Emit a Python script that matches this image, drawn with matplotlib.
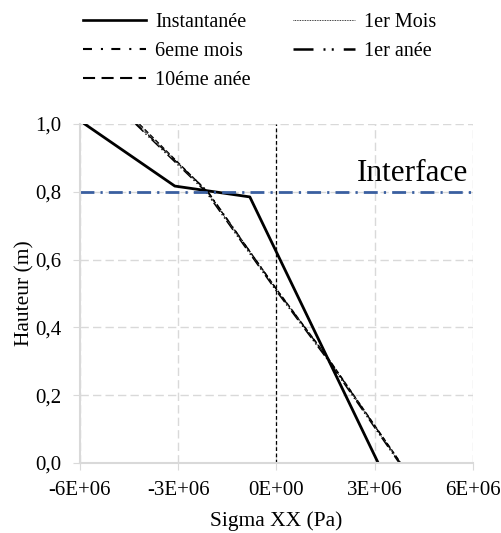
import matplotlib
matplotlib.use("Agg")
import matplotlib.pyplot as plt
from matplotlib.lines import Line2D
from matplotlib.ticker import FuncFormatter

plt.rcParams['font.family'] = ['Liberation Serif', 'DejaVu Serif']

# Hauteur (m) / Sigma XX (Pa)
h_inst = [1.0, 0.817, 0.785, 0.0]
sx_inst = [-5.85e6, -3.1e6, -0.81e6, 3.11e6]

h_long = [1.0, 0.8, 0.51, 0.3, 0.0]
sx_mois1 = [-4.23e6, -2.12e6, 0.0, 1.62e6, 3.77e6]
sx_mois6 = [-4.27e6, -2.08e6, 0.02e6, 1.64e6, 3.79e6]
sx_an1 = [-4.3e6, -2.15e6, -0.02e6, 1.6e6, 3.75e6]
sx_an10 = [-4.18e6, -2.1e6, 0.03e6, 1.65e6, 3.8e6]

h_interface = 0.8
x_ticks = [-6e6, -3e6, 0, 3e6, 6e6]
x_labels = ['-6E+06', '-3E+06', '0E+00', '3E+06', '6E+06']
y_ticks = [0.0, 0.2, 0.4, 0.6, 0.8, 1.0]

fig = plt.figure(figsize=(5.02, 5.33), dpi=100)
ax = fig.add_axes([0.159, 0.1313, 0.783, 0.636])

styles = {
    'Instantanée': dict(lw=2, ls='-'),
    '1er Mois': dict(lw=0.6, ls=(0, (1, 1))),
    '6eme mois': dict(lw=0.9, ls=(0, (6, 3, 1, 3))),
    '1er anée': dict(lw=1.0, ls=(0, (8, 2, 1, 2, 1, 2))),
    '10éme anée': dict(lw=0.9, ls=(0, (4, 2))),
}
ax.plot(sx_inst, h_inst, color='black', **styles['Instantanée'])
ax.plot(sx_mois1, h_long, color='black', **styles['1er Mois'])
ax.plot(sx_mois6, h_long, color='black', **styles['6eme mois'])
ax.plot(sx_an1, h_long, color='black', **styles['1er anée'])
ax.plot(sx_an10, h_long, color='black', **styles['10éme anée'])

ax.axvline(0, color='black', lw=0.9, ls=(0, (3, 2)))
ax.axhline(h_interface, color='#3a5fa0', lw=2, ls=(0, (5, 2.2, 0.8, 2.2)))
ax.text(5.87e6, 0.855, 'Interface', fontsize=22.5, ha='right', va='center')

ax.set_xlim(-6e6, 6e6)
ax.set_ylim(0, 1.0)
ax.set_xticks(x_ticks)
ax.set_xticklabels(x_labels)
ax.set_yticks(y_ticks)
ax.yaxis.set_major_formatter(FuncFormatter(lambda v, p: f'{v:.1f}'.replace('.', ',')))
ax.tick_params(labelsize=15, length=5, pad=8, color='#d9d9d9')
ax.grid(True, color='#d9d9d9', ls=(0, (6, 3)), lw=1)
ax.set_axisbelow(True)
for s in ['top', 'right']:
    ax.spines[s].set_visible(False)
for s in ['left', 'bottom']:
    ax.spines[s].set_color('#d9d9d9')
    ax.spines[s].set_linewidth(1.5)

ax.set_xlabel('Sigma XX (Pa)', fontsize=15.5, labelpad=8)
ax.set_ylabel('Hauteur (m)', fontsize=15.5, labelpad=1)

# legend lines are drawn heavier, like in the excel original
leg_styles = {
    'Instantanée': dict(lw=1.9, ls='-'),
    '1er Mois': dict(lw=0.6, ls=(0, (1, 1))),
    '6eme mois': dict(lw=1.5, ls=(0, (4.3, 4.3, 1, 4))),
    '1er anée': dict(lw=1.8, ls=(0, (8, 4, 0.8, 2.5, 0.8, 4))),
    '10éme anée': dict(lw=1.5, ls=(0, (5.8, 3.1))),
}
order = ['Instantanée', '6eme mois', '10éme anée', '1er Mois', '1er anée']
handles = [Line2D([], [], color='black', **leg_styles[k]) for k in order]
fig.legend(handles, order, loc='upper left', bbox_to_anchor=(0.13, 1.009),
           ncol=2, frameon=False, fontsize=14.5, handlelength=3.1, handletextpad=0.45,
           columnspacing=2.1, labelspacing=0.47)

fig.savefig('out.png', dpi=100)
